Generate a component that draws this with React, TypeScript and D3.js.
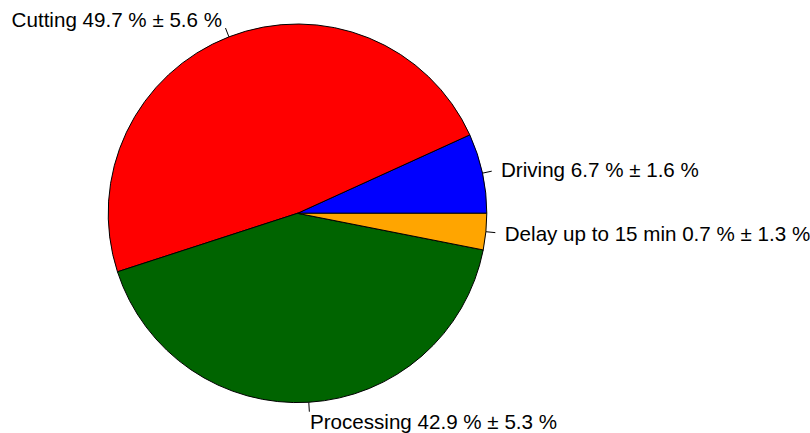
import React from "react";
import * as d3 from "d3";

const categories = ["Driving", "Cutting", "Processing", "Delay up to 15 min"];
const sliceShares = [6.8, 48.2, 41.9, 3.1];
const labels = [
  "Driving 6.7 % ± 1.6 %",
  "Cutting 49.7 % ± 5.6 %",
  "Processing 42.9 % ± 5.3 %",
  "Delay up to 15 min 0.7 % ± 1.3 %",
];
const colors = ["#0000FF", "#FF0000", "#006400", "#FFA500"];

export default function App() {
  const width = 810;
  const height = 433;
  const cx = 297.5;
  const cy = 213.3;
  const r = 189.3;

  const data = categories.map((c, i) => ({ c, v: sliceShares[i], label: labels[i], color: colors[i] }));
  // R-style: counterclockwise from 3 o'clock
  const pie = d3
    .pie<any>()
    .sort(null)
    .value((d: any) => d.v)
    .startAngle(Math.PI / 2)
    .endAngle(Math.PI / 2 - 2 * Math.PI);
  const arcs = pie(data);
  const arc = d3.arc<any>().innerRadius(0).outerRadius(r);

  return (
    <svg width={width} height={height} style={{ position: "absolute", left: 0, top: 0 }}>
      <rect width={width} height={height} fill="white" />
      <g transform={`translate(${cx},${cy})`}>
        {arcs.map((a, i) => (
          <path key={i} d={arc(a) as string} fill={a.data.color} stroke="black" strokeWidth={1} />
        ))}
        {arcs.map((a, i) => {
          const mid = (a.startAngle + a.endAngle) / 2; // d3 angle, clockwise from north
          const x = Math.sin(mid);
          const y = -Math.cos(mid);
          const anchor = x >= 0 ? "start" : "end";
          return (
            <g key={"l" + i}>
              <line x1={x * r} y1={y * r} x2={x * r * 1.05} y2={y * r * 1.05} stroke="black" strokeWidth={1} />
              <text
                x={x * r * 1.1}
                y={y * r * 1.1}
                textAnchor={anchor}
                dominantBaseline="central"
                fontFamily="'Liberation Sans', Arial, sans-serif"
                fontSize={20.6}
                fill="black"
              >
                {a.data.label}
              </text>
            </g>
          );
        })}
      </g>
    </svg>
  );
}
